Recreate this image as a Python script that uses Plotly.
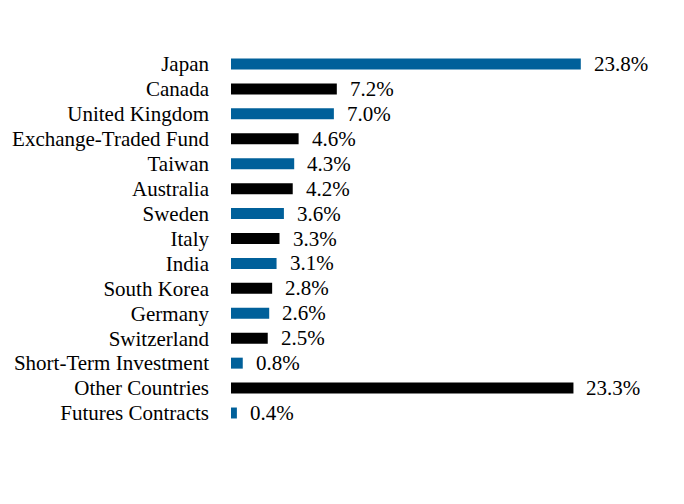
import plotly.graph_objects as go

categories = ["Japan", "Canada", "United Kingdom", "Exchange-Traded Fund", "Taiwan",
              "Australia", "Sweden", "Italy", "India", "South Korea", "Germany",
              "Switzerland", "Short-Term Investment", "Other Countries", "Futures Contracts"]
values = [23.8, 7.2, 7.0, 4.6, 4.3, 4.2, 3.6, 3.3, 3.1, 2.8, 2.6, 2.5, 0.8, 23.3, 0.4]
labels = [f"{v:.1f}%" for v in values]
colors = ["#00609a" if i % 2 == 0 else "#000000" for i in range(len(values))]

FONT = "Times New Roman, Liberation Serif, DejaVu Serif, serif"

fig = go.Figure(go.Bar(
    y=categories, x=values, orientation="h",
    marker=dict(color=colors, line=dict(width=0)),
    width=0.44,
))
for c, v, t in zip(categories, values, labels):
    fig.add_annotation(x=v, y=c, text=t, showarrow=False, xanchor="left",
                       xshift=11, font=dict(family=FONT, size=21, color="#000"))

fig.update_layout(
    width=684, height=504,
    margin=dict(l=231, r=40, t=50, b=77),
    paper_bgcolor="white", plot_bgcolor="white",
    font=dict(family=FONT, size=21, color="#000"),
    showlegend=False,
    xaxis=dict(range=[0, 28.1], visible=False),
    yaxis=dict(autorange="reversed", showgrid=False, ticks="", ticklabelstandoff=21,
               tickmode="array", tickvals=categories, ticktext=categories,
               showline=False, zeroline=False, tickfont=dict(family=FONT, size=21)),
)
fig.write_html("out.html")
